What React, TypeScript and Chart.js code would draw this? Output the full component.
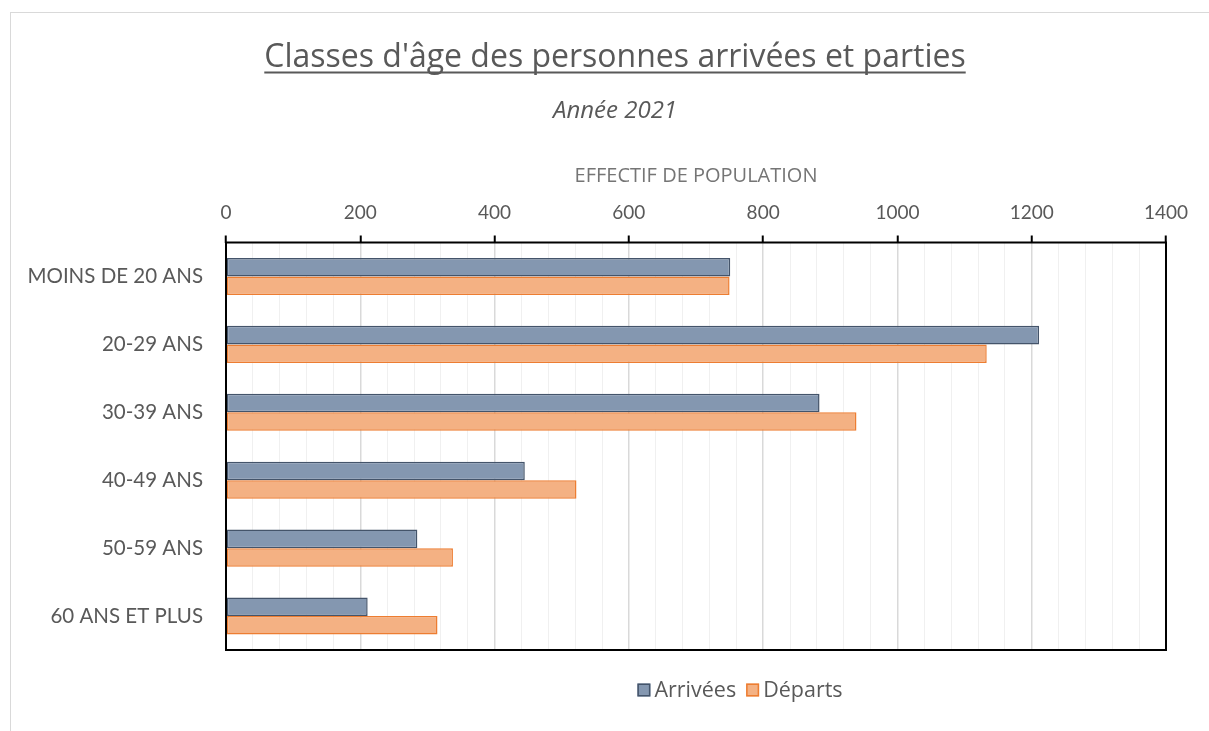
import React, { useEffect, useRef } from "react";
import { Chart, registerables } from "chart.js";

Chart.register(...registerables);

const categories = [
  "MOINS DE 20 ANS",
  "20-29 ANS",
  "30-39 ANS",
  "40-49 ANS",
  "50-59 ANS",
  "60 ANS ET PLUS",
];
const arrivees = [751, 1211, 884, 445, 285, 211];
const departs = [750, 1133, 939, 522, 338, 315];
const seriesNames = ["Arrivées", "Départs"];
const titleText = "Classes d'âge des personnes arrivées et parties";
const subtitleText = "Année 2021";
const axisTitle = "EFFECTIF DE POPULATION";
const xMin = 0;
const xMax = 1400;
const majorStep = 200;
const minorStep = 40;

const FONT = "Lato";
const FONT2 = "'Open Sans'";
const TEXT = "#595959";

const decorPlugin = {
  id: "decor",
  beforeDraw(chart: any) {
    const ctx = chart.ctx;
    ctx.save();
    ctx.fillStyle = "#ffffff";
    ctx.fillRect(0, 0, chart.width, chart.height);
    ctx.strokeStyle = "#d9d9d9";
    ctx.lineWidth = 1;
    ctx.strokeRect(10.5, 12.5, 1400, 900);
    ctx.restore();
  },
  afterDraw(chart: any) {
    const ctx = chart.ctx;
    const a = chart.chartArea;
    ctx.save();
    // plot box
    ctx.strokeStyle = "#000000";
    ctx.lineWidth = 2;
    ctx.strokeRect(a.left, a.top, a.right - a.left, a.bottom - a.top);

    // title
    const cx = 615;
    ctx.fillStyle = TEXT;
    ctx.font = `32px ${FONT2}`;
    ctx.textAlign = "center";
    ctx.textBaseline = "alphabetic";
    ctx.fillText(titleText, cx, 67);
    const tw = ctx.measureText(titleText).width;
    ctx.strokeStyle = TEXT;
    ctx.lineWidth = 2;
    ctx.beginPath();
    ctx.moveTo(cx - tw / 2, 72.5);
    ctx.lineTo(cx + tw / 2, 72.5);
    ctx.stroke();

    // subtitle
    ctx.font = `italic 24px ${FONT2}`;
    ctx.fillText(subtitleText, cx, 118);

    // legend
    ctx.font = `21.5px ${FONT2}`;
    ctx.textAlign = "left";
    const box = 13;
    const gapBoxText = 4;
    const gapItems = 10;
    const ds = chart.data.datasets;
    const widths = ds.map((d: any) => box + gapBoxText + ctx.measureText(d.label).width);
    const total = widths.reduce((s: number, w: number) => s + w, 0) + gapItems * (ds.length - 1);
    let x = 740 - total / 2;
    const ly = 690;
    ds.forEach((d: any, i: number) => {
      ctx.fillStyle = d.backgroundColor;
      ctx.fillRect(x, ly - box / 2, box, box);
      ctx.strokeStyle = d.borderColor;
      ctx.lineWidth = 1.5;
      ctx.strokeRect(x + 0.75, ly - box / 2 + 0.75, box - 1.5, box - 1.5);
      ctx.fillStyle = TEXT;
      ctx.textBaseline = "middle";
      ctx.fillText(d.label, x + box + gapBoxText, ly + 1);
      x += widths[i] + gapItems;
    });
    ctx.restore();
  },
};

export default function App() {
  const ref = useRef<HTMLCanvasElement | null>(null);

  useEffect(() => {
    if (!ref.current) return;
    const chart = new Chart(ref.current, {
      type: "bar",
      data: {
        labels: categories,
        datasets: [
          {
            label: seriesNames[0],
            data: arrivees,
            backgroundColor: "#8497b0",
            borderColor: "#44546a",
            borderWidth: 1.5,
            borderSkipped: false,
          },
          {
            label: seriesNames[1],
            data: departs,
            backgroundColor: "#f4b183",
            borderColor: "#ed7d31",
            borderWidth: 1.5,
            borderSkipped: false,
          },
        ],
      },
      options: {
        indexAxis: "y",
        animation: false,
        responsive: false,
        maintainAspectRatio: false,
        layout: { padding: { top: 140, left: 0, right: 43, bottom: 81 } },
        datasets: { bar: { categoryPercentage: 0.545, barPercentage: 1 } },
        plugins: {
          legend: { display: false },
          title: { display: false },
          tooltip: { enabled: false },
        },
        scales: {
          x: {
            position: "top",
            min: xMin,
            max: xMax,
            afterFit: (s: any) => {
              s.height = 102.5;
            },
            border: { display: false },
            grid: {
              color: (c: any) =>
                c.tick && c.tick.value % majorStep === 0 ? "#d9d9d9" : "#f0f0f0",
              lineWidth: (c: any) =>
                c.tick && c.tick.value % majorStep === 0 ? 1.5 : 1,
              tickColor: (c: any) =>
                c.tick && c.tick.value % majorStep === 0 ? "#000000" : "rgba(0,0,0,0)",
              tickLength: 7,
              tickWidth: 2,
            },
            ticks: {
              stepSize: minorStep,
              autoSkip: false,
              maxRotation: 0,
              padding: 11,
              color: TEXT,
              font: { family: FONT, size: 19 },
              callback: (v: any) => (Number(v) % majorStep === 0 ? String(v) : ""),
            },
            title: {
              display: true,
              text: axisTitle,
              color: "#757575",
              font: { family: FONT2, size: 20 },
              padding: { top: 24, bottom: 0 },
            },
          },
          y: {
            afterFit: (s: any) => {
              s.width = 226;
            },
            border: { display: false },
            grid: { display: false, drawTicks: false },
            ticks: {
              padding: 23,
              color: TEXT,
              font: { family: FONT, size: 20.5 },
            },
          },
        },
      },
      plugins: [decorPlugin],
    });
    return () => chart.destroy();
  }, []);

  return (
    <div style={{ position: "fixed", left: 0, top: 0, width: 1209, height: 731, background: "#fff" }}>
      <canvas ref={ref} width={1209} height={731} style={{ display: "block" }} />
    </div>
  );
}
